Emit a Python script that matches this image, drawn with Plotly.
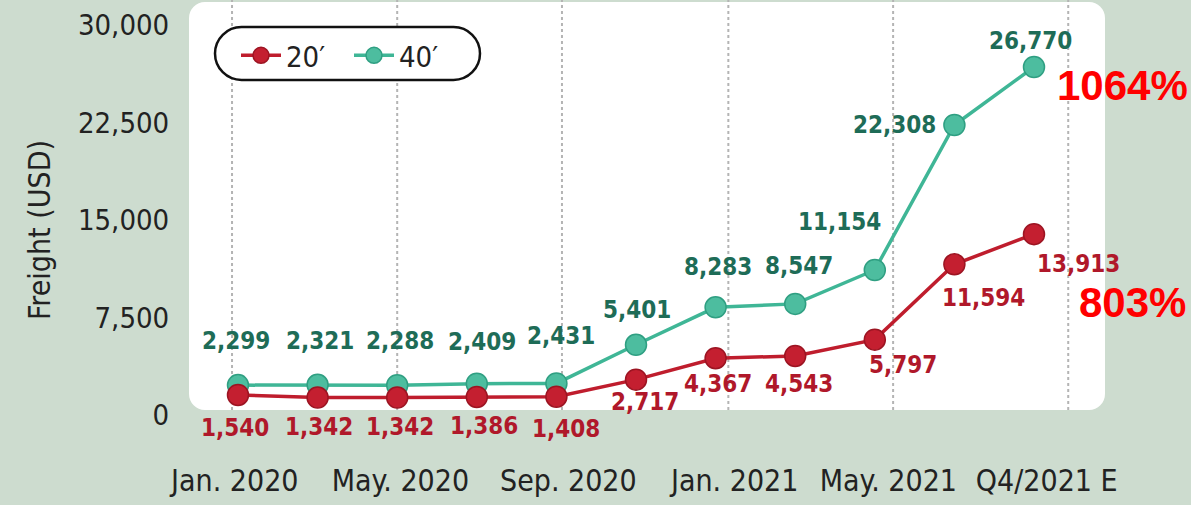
import plotly.graph_objects as go

# ---------------- data ----------------
categories = ["Jan. 2020", "Mar. 2020", "May. 2020", "Jul. 2020", "Sep. 2020", "Nov. 2020",
              "Jan. 2021", "Mar. 2021", "May. 2021", "Jul. 2021", "Q4/2021 E"]
freight_20 = [1540, 1342, 1342, 1386, 1408, 2717, 4367, 4543, 5797, 11594, 13913]
freight_40 = [2299, 2321, 2288, 2409, 2431, 5401, 8283, 8547, 11154, 22308, 26770]
tick_labels = ["Jan. 2020", "May. 2020", "Sep. 2020", "Jan. 2021", "May. 2021", "Q4/2021 E"]
y_ticks = [0, 7500, 15000, 22500, 30000]
growth_40 = "1064%"
growth_20 = "803%"

# ---------------- layout constants ----------------
W, H = 1191, 505
ML, MR, MT, MB = 183, 70, 0, 45
PW, PH = W - ML - MR, H - MT - MB
BG = "#cddccf"
RED, RED_TXT = "#bf1d2d", "#b0182a"
TEAL, TEAL_TXT = "#3fb696", "#1e6c57"
FONT = "DejaVu Sans Condensed, Liberation Sans Narrow, Roboto, sans-serif"

x_idx = list(range(len(categories)))
label_pos = [-0.04, 2.04, 4.15, 6.24, 8.17, 10.16]
grid_pos = [-0.075, 2.0, 4.07, 6.16, 8.23, 10.43]


def px2paper(px, py):
    return (px - ML) / PW, (MT + PH - py) / PH


def rounded_path(x0, y0, x1, y1, r):
    k = 0.5523 * r
    pts = [
        ("M", [(x0 + r, y0)]),
        ("L", [(x1 - r, y0)]),
        ("C", [(x1 - r + k, y0), (x1, y0 + r - k), (x1, y0 + r)]),
        ("L", [(x1, y1 - r)]),
        ("C", [(x1, y1 - r + k), (x1 - r + k, y1), (x1 - r, y1)]),
        ("L", [(x0 + r, y1)]),
        ("C", [(x0 + r - k, y1), (x0, y1 - r + k), (x0, y1 - r)]),
        ("L", [(x0, y0 + r)]),
        ("C", [(x0, y0 + r - k), (x0 + r - k, y0), (x0 + r, y0)]),
    ]
    s = ""
    for cmd, plist in pts:
        s += cmd + " " + " ".join("%.5f,%.5f" % px2paper(a, b) for a, b in plist) + " "
    return s + "Z"


fig = go.Figure()

fig.add_trace(go.Scatter(
    x=x_idx, y=freight_40, name="40′", mode="lines+markers", legendrank=2,
    text=categories, hovertemplate="%{text}: %{y:,}<extra>40′</extra>",
    line=dict(color=TEAL, width=3.5),
    marker=dict(size=21, color="#4dbd9f", line=dict(color="#2f9f82", width=1.5)),
))
fig.add_trace(go.Scatter(
    x=x_idx, y=freight_20, name="20′", mode="lines+markers", legendrank=1,
    text=categories, hovertemplate="%{text}: %{y:,}<extra>20′</extra>",
    line=dict(color=RED, width=3.5),
    marker=dict(size=21, color="#c41f30", line=dict(color="#9c1422", width=1.5)),
))

# value labels
shift_40 = [(-2, 44), (2, 44), (3, 44), (5, 42), (5, 47), (1, 35), (2, 40), (4, 38), (-35, 48), (-60, 0), (-4, 26)]
shift_20 = [(-3, -33), (1, -29), (3, -29), (7, -29), (10, -32), (9, -22), (2, -26), (4, -28), (28, -25), (29, -34), (44, -30)]

annotations = []
for i, v in enumerate(freight_40):
    annotations.append(dict(x=x_idx[i], y=v, text="<b>%s</b>" % format(v, ","), showarrow=False,
                            xanchor="center", yanchor="middle",
                            xshift=shift_40[i][0], yshift=shift_40[i][1],
                            font=dict(family=FONT, size=24, color=TEAL_TXT)))
for i, v in enumerate(freight_20):
    annotations.append(dict(x=x_idx[i], y=v, text="<b>%s</b>" % format(v, ","), showarrow=False,
                            xanchor="center", yanchor="middle",
                            xshift=shift_20[i][0], yshift=shift_20[i][1],
                            font=dict(family=FONT, size=24, color=RED_TXT)))

gx, gy = px2paper(1122, 85)
annotations.append(dict(xref="paper", yref="paper", x=gx, y=gy, text="<b>%s</b>" % growth_40,
                        xanchor="center", yanchor="middle",
                        showarrow=False, font=dict(family="Liberation Sans, Arial", size=42, color="#ff0000")))
gx, gy = px2paper(1132, 302)
annotations.append(dict(xref="paper", yref="paper", x=gx, y=gy, text="<b>%s</b>" % growth_20,
                        xanchor="center", yanchor="middle",
                        showarrow=False, font=dict(family="Liberation Sans, Arial", size=42, color="#ff0000")))

shapes = [
    dict(type="path", xref="paper", yref="paper", path=rounded_path(189, 2, 1105, 410, 16),
         fillcolor="white", line=dict(width=0), layer="below"),
]
_, gy_top = px2paper(0, 0)
_, gy_bot = px2paper(0, 410)
for g in grid_pos:
    shapes.append(dict(type="line", xref="x", yref="paper", x0=g, x1=g, y0=gy_bot, y1=gy_top,
                       line=dict(color="#b4b4b4", width=2, dash="dot"), layer="below"))
shapes.append(dict(type="path", xref="paper", yref="paper", path=rounded_path(215, 27, 480, 80, 26.5),
                   fillcolor="white", line=dict(color="#111111", width=2.5), layer="above"))

lx, ly = px2paper(236, 30)

fig.update_layout(
    width=W, height=H,
    margin=dict(l=ML, r=MR, t=MT, b=MB),
    paper_bgcolor=BG, plot_bgcolor=BG,
    showlegend=True,
    legend=dict(orientation="h", x=lx, y=ly, xanchor="left", yanchor="top",
                bgcolor="rgba(0,0,0,0)", font=dict(family=FONT, size=29, color="#222"),
                entrywidth=58, entrywidthmode="pixels", itemwidth=40),
    annotations=annotations,
    shapes=shapes,
    xaxis=dict(range=[-0.691, 11.093], tickvals=label_pos, ticktext=tick_labels,
               showgrid=False, zeroline=False, showline=False,
               ticks="", ticklen=0,
               tickfont=dict(family=FONT, size=30, color="#222")),
    yaxis=dict(range=[-3462, 31923], tickvals=y_ticks, tickformat=",",
               showgrid=False, zeroline=False, showline=False,
               ticks="outside", ticklen=7, tickcolor="rgba(0,0,0,0)",
               tickfont=dict(family=FONT, size=29, color="#222")),
)
fig.update_yaxes(title=dict(text="Freight (USD)", standoff=18,
                            font=dict(family=FONT, size=30, color="#222")))

fig.write_html("out.html", config={"displayModeBar": False},
               post_script="document.body.style.margin='0px';document.body.style.padding='0px';")
